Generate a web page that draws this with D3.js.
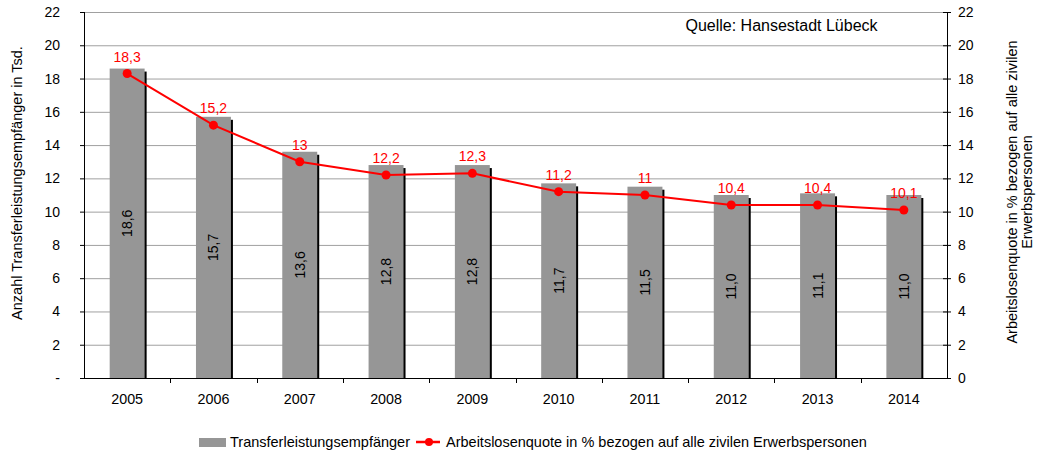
<!DOCTYPE html>
<html><head><meta charset="utf-8">
<script src="https://cdn.jsdelivr.net/npm/d3@7"></script>
<style>body{margin:0;background:#fff}svg{display:block;font-family:"Liberation Sans",Arial,sans-serif}</style>
</head><body><svg id="c" width="1040" height="455"></svg>
<script>
const years = ["2005","2006","2007","2008","2009","2010","2011","2012","2013","2014"];
const empfaenger = [18.6,15.7,13.6,12.8,12.8,11.7,11.5,11.0,11.1,11.0];
const quote = [18.3,15.2,13,12.2,12.3,11.2,11,10.4,10.4,10.1];
const quoteLabels = ["18,3","15,2","13","12,2","12,3","11,2","11","10,4","10,4","10,1"];
const ticksLeft = [0,2,4,6,8,10,12,14,16,18,20,22];

const FS = 14;
const svg = d3.select("#c");
const L=84, R=947, T=12, B=378;
const x = d3.scaleBand().domain(years).range([L,R]).paddingInner(0.595).paddingOuter(0.2975);
const y = d3.scaleLinear().domain([0,22]).range([B,T]);
const y2 = d3.scaleLinear().domain([0,22]).range([B,T]);

// gridlines
svg.append("g").selectAll("line").data(ticksLeft.filter(d=>d>0)).join("line")
  .attr("x1",L).attr("x2",R).attr("y1",d=>y(d)+0.5).attr("y2",d=>y(d)+0.5)
  .attr("stroke","#a0a0a0").attr("stroke-width",1);

// bars shadow + bars
const g = svg.append("g");
g.selectAll("rect.s").data(empfaenger).join("rect").attr("class","s")
  .attr("x",(d,i)=>x(years[i])+2).attr("y",d=>y(d)+3)
  .attr("width",x.bandwidth()).attr("height",d=>B-y(d)-3).attr("fill","#000");
g.selectAll("rect.b").data(empfaenger).join("rect").attr("class","b")
  .attr("x",(d,i)=>x(years[i])).attr("y",d=>y(d))
  .attr("width",x.bandwidth()).attr("height",d=>B-y(d)).attr("fill","#969696");
g.selectAll("text.bl").data(empfaenger).join("text").attr("class","bl")
  .attr("transform",(d,i)=>`translate(${x(years[i])+x.bandwidth()/2+5},${(y(d)+B)/2}) rotate(-90)`)
  .attr("text-anchor","middle").attr("font-size",FS).attr("fill","#000")
  .text(d=>d.toFixed(1).replace(".",","));

// left axis
const ax = d3.axisLeft(y).tickValues(ticksLeft).tickSize(4).tickPadding(20)
  .tickFormat(d=>d===0?"-":d);
const gl = svg.append("g").attr("transform",`translate(${L},0)`).call(ax);
gl.select(".domain").remove();
gl.append("line").attr("x1",0.5).attr("x2",0.5).attr("y1",T).attr("y2",B+1).attr("stroke","#000");
gl.selectAll(".tick text").attr("font-size",FS).attr("fill","#000").attr("font-family","Liberation Sans, Arial");

// right axis
const ar = d3.axisRight(y2).tickValues(ticksLeft).tickSize(4).tickPadding(7);
const gr = svg.append("g").attr("transform",`translate(${R},0)`).call(ar);
gr.select(".domain").remove();
gr.append("line").attr("x1",0.5).attr("x2",0.5).attr("y1",T).attr("y2",B+1).attr("stroke","#000");
gr.selectAll(".tick").append("line").attr("x1",-4).attr("x2",0).attr("stroke","#000");
gr.selectAll(".tick text").attr("font-size",FS).attr("fill","#000").attr("font-family","Liberation Sans, Arial");

// bottom axis
svg.append("line").attr("x1",L).attr("x2",R+1).attr("y1",B+0.5).attr("y2",B+0.5).attr("stroke","#000");
const step = x.step();
svg.append("g").selectAll("line").data(years.slice(1)).join("line")
  .attr("x1",d=>Math.round(x(d)-(step-x.bandwidth())/2)+0.5)
  .attr("x2",d=>Math.round(x(d)-(step-x.bandwidth())/2)+0.5)
  .attr("y1",B).attr("y2",B+5).attr("stroke","#000");
svg.append("g").selectAll("text").data(years).join("text")
  .attr("x",d=>x(d)+x.bandwidth()/2).attr("y",404).attr("text-anchor","middle")
  .attr("font-size",14.3).attr("fill","#000").text(d=>d);

// line
const cx = (d,i)=>x(years[i])+x.bandwidth()/2;
svg.append("path").datum(quote)
  .attr("d",d3.line().x(cx).y(d=>y2(d)))
  .attr("fill","none").attr("stroke","#ff0000").attr("stroke-width",2);
svg.append("g").selectAll("circle").data(quote).join("circle")
  .attr("cx",cx).attr("cy",d=>y2(d)).attr("r",4.5).attr("fill","#ff0000");
svg.append("g").selectAll("text").data(quote).join("text")
  .attr("x",cx).attr("y",d=>y2(d)-12).attr("text-anchor","middle")
  .attr("font-size",FS).attr("fill","#ff0000").text((d,i)=>quoteLabels[i]);

// source
svg.append("text").attr("x",781.5).attr("y",31).attr("text-anchor","middle")
  .attr("font-size",16).attr("fill","#000").text("Quelle: Hansestadt Lübeck");

// axis titles
svg.append("text").attr("transform","translate(22,183) rotate(-90)").attr("text-anchor","middle")
  .attr("font-size",14.5).attr("fill","#000").text("Anzahl Transferleistungsempfänger in Tsd.");
const rt = svg.append("text").attr("transform","translate(1017,192) rotate(-90)").attr("text-anchor","middle")
  .attr("font-size",14.5).attr("fill","#000");
rt.append("tspan").attr("x",0).attr("dy",0).text("Arbeitslosenquote in % bezogen auf alle zivilen");
rt.append("tspan").attr("x",0).attr("dy",15).text("Erwerbspersonen");

// legend
svg.append("rect").attr("x",199).attr("y",438).attr("width",27).attr("height",9).attr("fill","#969696");
svg.append("text").attr("x",230).attr("y",447).attr("font-size",14.5).attr("fill","#000").text("Transferleistungsempfänger");
svg.append("line").attr("x1",416).attr("x2",440).attr("y1",442).attr("y2",442).attr("stroke","#ff0000").attr("stroke-width",2.5);
svg.append("circle").attr("cx",429).attr("cy",442).attr("r",4).attr("fill","#ff0000");
svg.append("text").attr("x",446).attr("y",447).attr("font-size",14.5).attr("fill","#000").text("Arbeitslosenquote in % bezogen auf alle zivilen Erwerbspersonen");
</script></body></html>
